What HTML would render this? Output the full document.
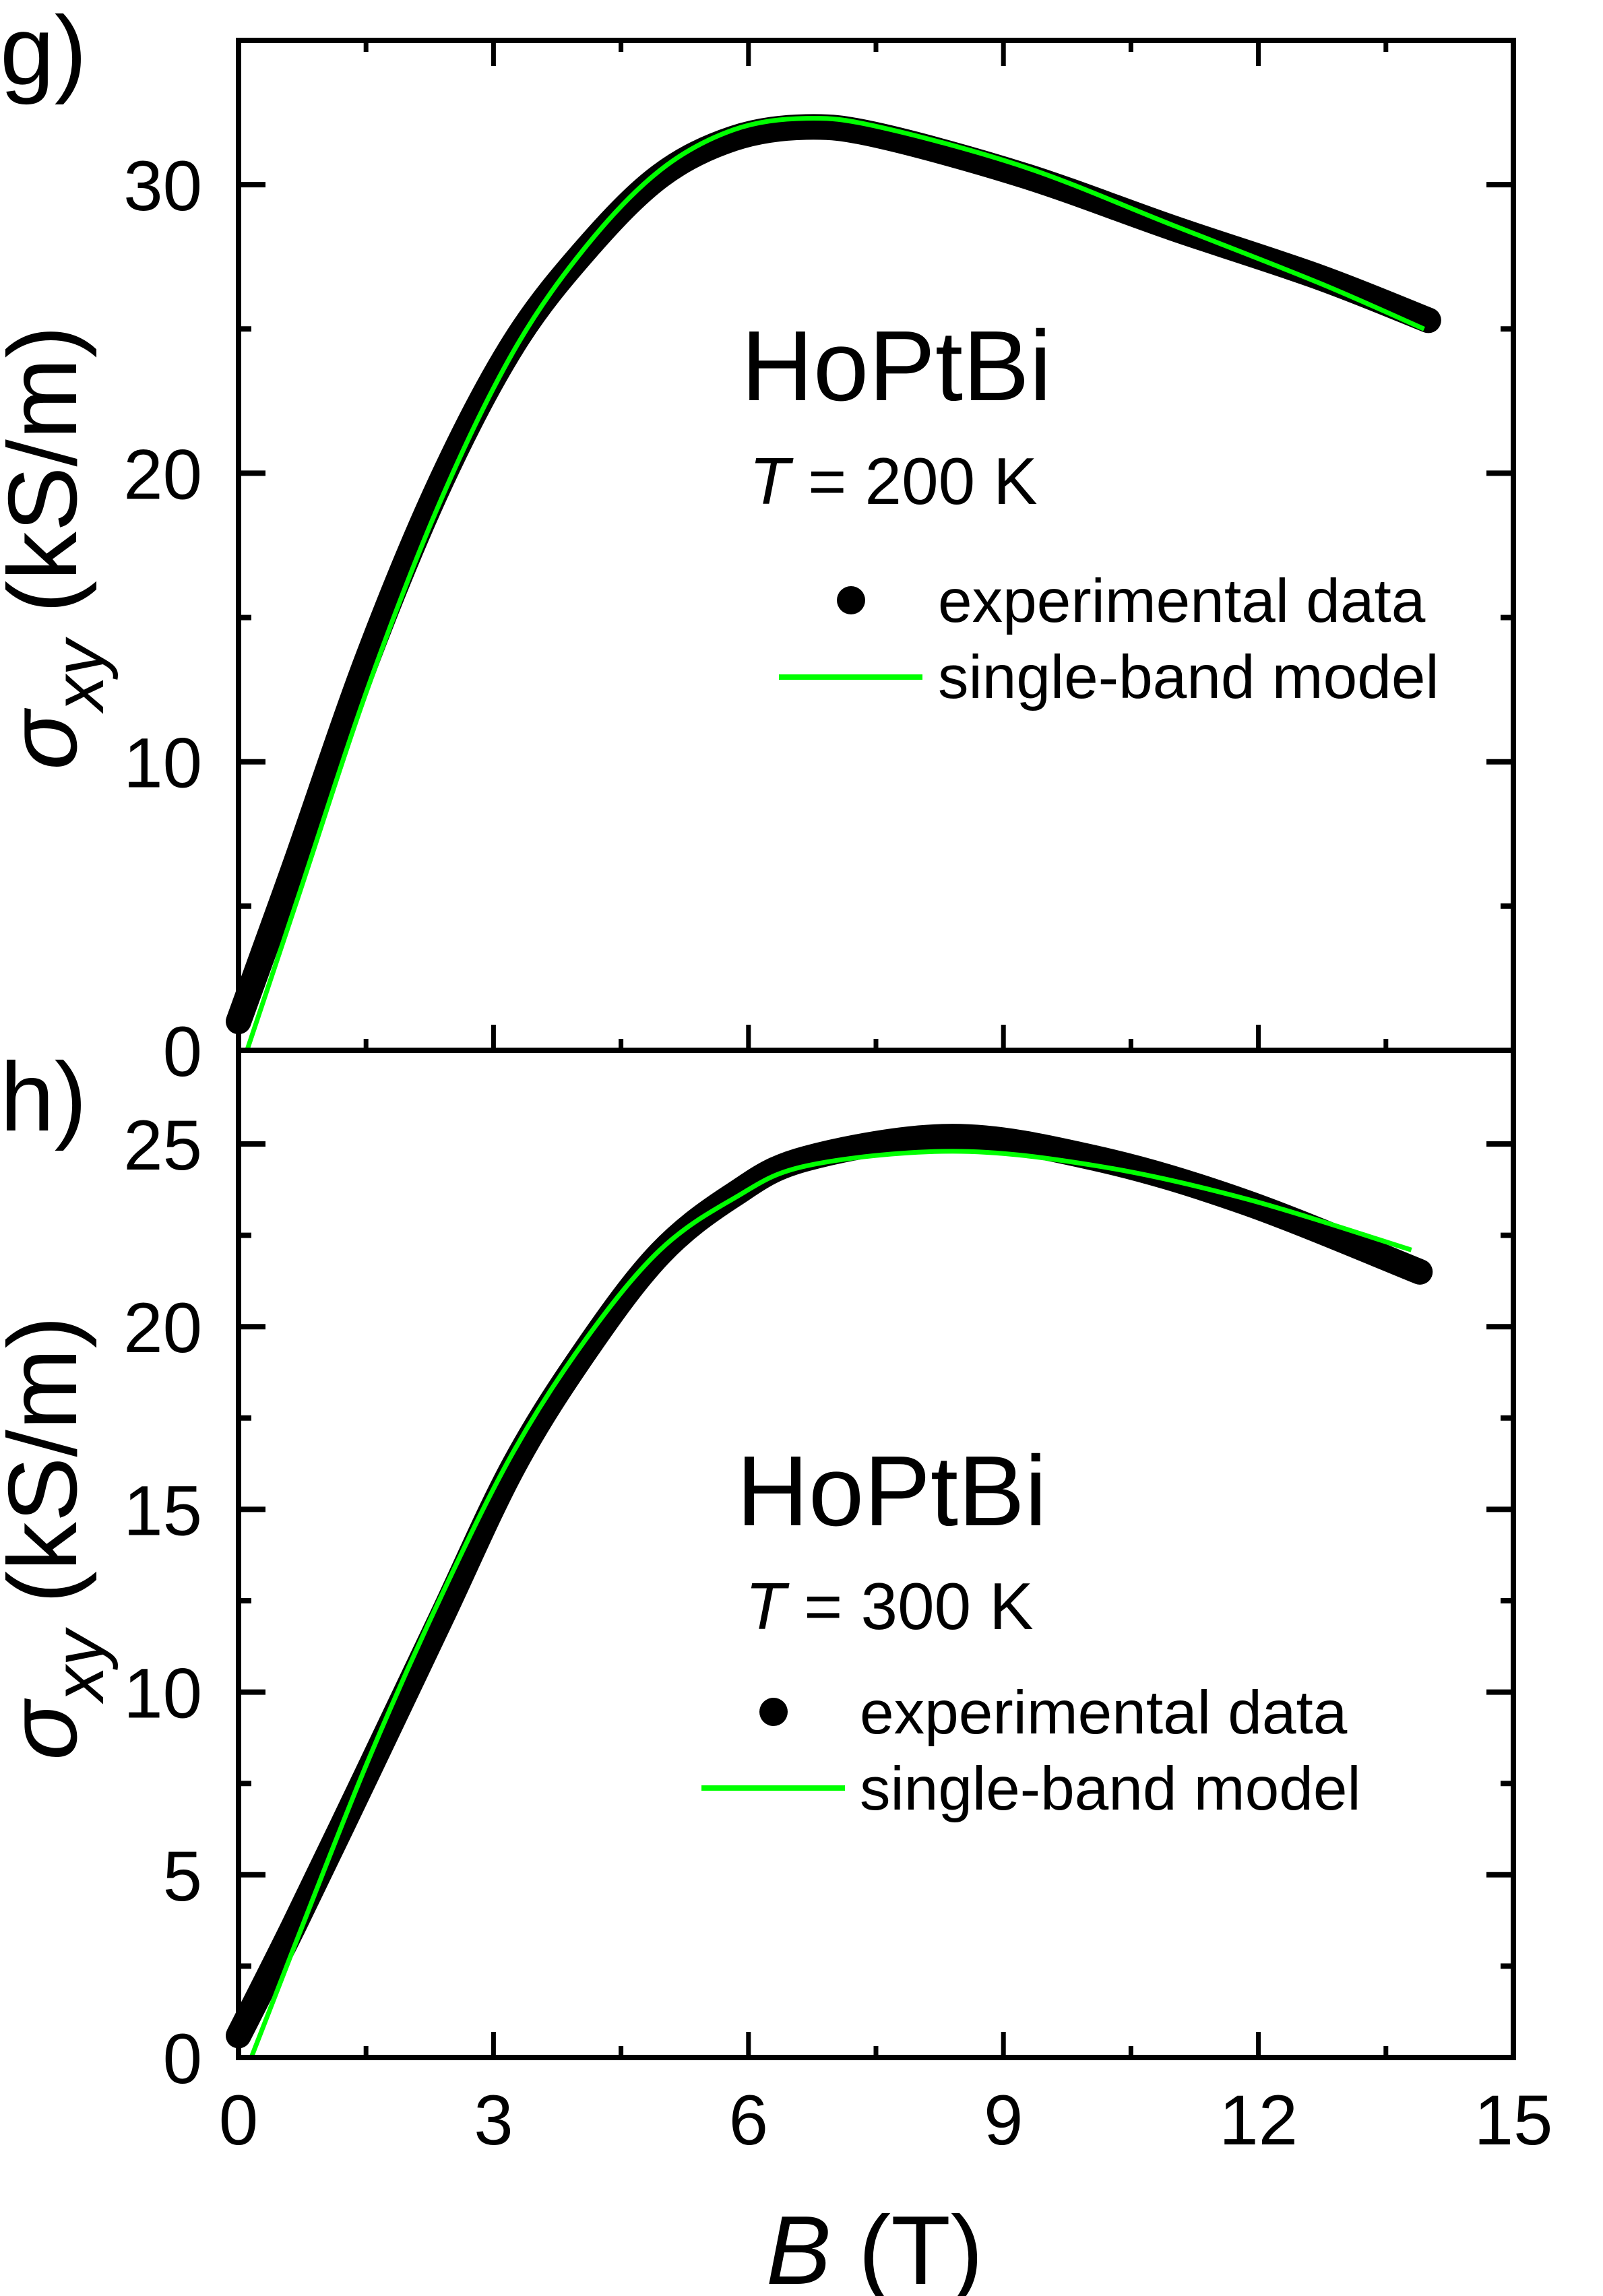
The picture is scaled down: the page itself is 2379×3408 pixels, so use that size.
<!DOCTYPE html>
<html><head><meta charset="utf-8"><style>
html,body{margin:0;padding:0;background:#fff}
svg{display:block}
text{font-family:"Liberation Sans",Arial,sans-serif;fill:#000}
</style></head><body>
<svg id="chart" width="2379" height="3408" viewBox="0 0 2379 3408" xmlns="http://www.w3.org/2000/svg">
<g id="layer"></g>
</svg>
<script>
// ---- data ----
const xTicks = [0, 3, 6, 9, 12, 15];
const gYTicks = [0, 10, 20, 30];
const hYTicks = [0, 5, 10, 15, 20, 25];
const gDataB = [0, 0.65, 1.52, 2.38, 3.24, 4.1, 4.96, 5.82, 6.68, 7.54, 9.26, 10.99, 12.71, 14.0];
const gDataV = [1.0, 6.3, 13.6, 19.7, 24.5, 27.8, 30.3, 31.6, 32.0, 31.7, 30.3, 28.5, 26.8, 25.3];
const gModelB = [0.1, 0.7, 1.55, 2.4, 3.25, 4.1, 4.96, 5.82, 6.68, 7.54, 9.26, 10.99, 12.71, 13.95];
const gModelV = [0, 5.3, 12.8, 19.2, 24.3, 27.9, 30.5, 31.9, 32.3, 32.0, 30.6, 28.6, 26.6, 25.0];
const hDataB = [0, 0.65, 1.52, 2.38, 3.24, 4.1, 4.96, 5.82, 6.68, 8.4, 10.1, 11.85, 13.9];
const hDataV = [0.6, 3.6, 7.8, 12.0, 16.2, 19.4, 22.0, 23.6, 24.6, 25.2, 24.6, 23.4, 21.5];
const hModelB = [0.15, 0.65, 1.52, 2.38, 3.24, 4.1, 4.96, 5.82, 6.68, 8.4, 10.1, 11.85, 13.8];
const hModelV = [0, 3.0, 8.1, 12.6, 16.6, 19.7, 22.1, 23.5, 24.4, 24.8, 24.4, 23.5, 22.1];

const NS = "http://www.w3.org/2000/svg";
const layer = document.getElementById('layer');
const X0 = 354, X1 = 2246;
const xs = b => X0 + (b / 15) * (X1 - X0);
const panels = [
  {key:'g', top:60, bottom:1559, vmax:35, ticks:gYTicks, minor:[5,15,25], dB:gDataB, dV:gDataV, mB:gModelB, mV:gModelV},
  {key:'h', top:1559, bottom:3054, vmax:1495/54.24, ticks:hYTicks, minor:[2.5,7.5,12.5,17.5,22.5], dB:hDataB, dV:hDataV, mB:hModelB, mV:hModelV}
];
function mk(tag, attrs, parent){
  const e = document.createElementNS(NS, tag);
  for (const k in attrs) e.setAttribute(k, attrs[k]);
  (parent||layer).appendChild(e);
  return e;
}
function smoothPath(pts){
  let d = 'M' + pts[0][0] + ',' + pts[0][1];
  for (let i = 0; i < pts.length - 1; i++){
    const p0 = pts[i-1] || pts[i], p1 = pts[i], p2 = pts[i+1], p3 = pts[i+2] || p2;
    const c1x = p1[0] + (p2[0]-p0[0])/6, c1y = p1[1] + (p2[1]-p0[1])/6;
    const c2x = p2[0] - (p3[0]-p1[0])/6, c2y = p2[1] - (p3[1]-p1[1])/6;
    d += ' C' + c1x + ',' + c1y + ' ' + c2x + ',' + c2y + ' ' + p2[0] + ',' + p2[1];
  }
  return d;
}
panels.forEach(p => {
  const ys = v => p.bottom - (v / p.vmax) * (p.bottom - p.top);
  const g = mk('g', {});
  
  
  const dp = mk('path', {d: smoothPath(p.dB.map((b,i)=>[xs(b), ys(p.dV[i])])), fill:'none', stroke:'#000', 'stroke-width':38, 'stroke-linecap':'round', 'stroke-linejoin':'round'}, g);
  
  
  const mp = mk('path', {d: smoothPath(p.mB.map((b,i)=>[xs(b), ys(p.mV[i])])), fill:'none', stroke:'#00ff00', 'stroke-width':7}, g);
  
  
  p.ticks.forEach(v => {
    const y = ys(v);
    mk('line', {x1:X0, x2:X0+40, y1:y, y2:y, stroke:'#000', 'stroke-width':8}, g);
    mk('line', {x1:X1, x2:X1-40, y1:y, y2:y, stroke:'#000', 'stroke-width':8}, g);
    const t = mk('text', {x:300, y:y+38, 'font-size':105, 'text-anchor':'end'}, g);
    t.textContent = v;
    
    
  });
  p.minor.forEach(v => {
    const y = ys(v);
    mk('line', {x1:X0, x2:X0+19, y1:y, y2:y, stroke:'#000', 'stroke-width':8}, g);
    mk('line', {x1:X1, x2:X1-19, y1:y, y2:y, stroke:'#000', 'stroke-width':8}, g);
  });
  for (let b = 1.5; b < 15; b += 1.5){
    const x = xs(b), major = (b % 3 === 0), L = major ? 38 : 17;
    mk('line', {x1:x, x2:x, y1:p.bottom, y2:p.bottom-L, stroke:'#000', 'stroke-width':7}, g);
    if (p.key === 'g') mk('line', {x1:x, x2:x, y1:p.top, y2:p.top+L, stroke:'#000', 'stroke-width':7}, g);
  }
  const fr = mk('rect', {x:X0, y:p.top, width:X1-X0, height:p.bottom-p.top, fill:'none', stroke:'#000', 'stroke-width':8}, g);
  
  
});
xTicks.forEach(b => {
  const t = mk('text', {x:xs(b), y:3183, 'font-size':105, 'text-anchor':'middle'});
  t.textContent = b;
  
  
});
</script>
<svg style="position:absolute;left:0;top:0" width="2379" height="3408" viewBox="0 0 2379 3408" xmlns="http://www.w3.org/2000/svg">
<text x="0" y="125" font-size="145" style="font-family:'Liberation Sans',sans-serif">g)</text>
<text x="0" y="1678" font-size="145" style="font-family:'Liberation Sans',sans-serif">h)</text>
<text transform="translate(113,813) rotate(-90)" text-anchor="middle" font-size="145" style="font-family:'Liberation Sans',sans-serif"><tspan font-style="italic">σ</tspan><tspan font-size="105" font-style="italic" dy="40">xy</tspan><tspan dy="-40"> (kS/m)</tspan></text>
<text transform="translate(113,2283) rotate(-90)" text-anchor="middle" font-size="145" style="font-family:'Liberation Sans',sans-serif"><tspan font-style="italic">σ</tspan><tspan font-size="105" font-style="italic" dy="40">xy</tspan><tspan dy="-40"> (kS/m)</tspan></text>
<text x="1298" y="3390" text-anchor="middle" font-size="145" style="font-family:'Liberation Sans',sans-serif"><tspan font-style="italic">B</tspan> (T)</text>

<text x="1100" y="594" font-size="148" style="font-family:'Liberation Sans',sans-serif">HoPtBi</text>
<text x="1112" y="748" font-size="98" style="font-family:'Liberation Sans',sans-serif"><tspan font-style="italic">T</tspan> = 200 K</text>
<circle cx="1263" cy="891" r="21" fill="#000"/>
<text x="1392" y="923" font-size="91" style="font-family:'Liberation Sans',sans-serif">experimental data</text>
<line x1="1156" x2="1369" y1="1005" y2="1005" stroke="#00ff00" stroke-width="8"/>
<text x="1392" y="1036" font-size="91" style="font-family:'Liberation Sans',sans-serif">single-band model</text>

<text x="1093" y="2264" font-size="148" style="font-family:'Liberation Sans',sans-serif">HoPtBi</text>
<text x="1106" y="2418" font-size="98" style="font-family:'Liberation Sans',sans-serif"><tspan font-style="italic">T</tspan> = 300 K</text>
<circle cx="1148" cy="2541" r="21" fill="#000"/>
<text x="1276" y="2573" font-size="91" style="font-family:'Liberation Sans',sans-serif">experimental data</text>
<line x1="1041" x2="1254" y1="2654" y2="2654" stroke="#00ff00" stroke-width="8"/>
<text x="1276" y="2686" font-size="91" style="font-family:'Liberation Sans',sans-serif">single-band model</text>
</svg>
</body></html>
